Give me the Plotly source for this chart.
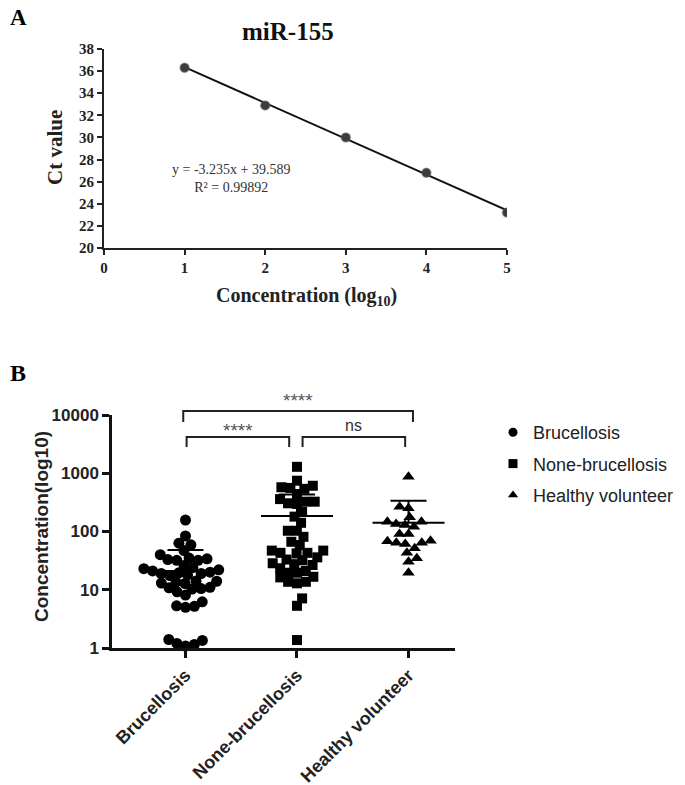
import math
import plotly.graph_objects as go

W, H = 685, 785

# ---------------- Panel A data ----------------
conc_log = [1, 2, 3, 4, 5]
ct_values = [36.3, 32.9, 30.0, 26.8, 23.2]
slope = -3.235
intercept = 39.589
r_squared = 0.99892
a_xticks = [0, 1, 2, 3, 4, 5]
a_yticks = [20, 22, 24, 26, 28, 30, 32, 34, 36, 38]

# ---------------- Panel B data ----------------
groups = ["Brucellosis", "None-brucellosis", "Healthy volunteer"]
brucellosis = [157, 84, 63, 59, 47, 40,
               35, 32, 33, 32, 34,
               26,
               23, 22, 24, 21, 20,
               19, 18, 19.5, 17.5, 19,
               14, 13, 13.5, 12.8, 14.2,
               10.5, 11, 10.8, 10.3,
               9.2, 8.1, 6.2,
               5.2, 5.0, 5.3,
               1.4, 1.2, 1.08, 1.15, 1.35]
none_brucellosis = [1290, 745, 610, 540, 560, 575, 440, 360,
                    325, 305, 297, 325,
                    218, 180, 141, 103, 103, 81, 66.6, 58.6,
                    47, 43, 42, 43, 47,
                    33, 36,
                    26.6, 28.5, 27.5, 32,
                    21, 19.6, 19.6, 23.4,
                    16.3, 13.7, 12.9, 13.7, 16.7,
                    7.1, 5.3, 1.37]
healthy = [870, 250, 265,
           175, 147, 129, 121, 135, 147,
           91, 91,
           69.5, 64, 61, 64, 68,
           51.5, 43, 34.7, 30.3, 19.6]
group_means = [21, 185, 141]
group_sd_upper = [48, 430, 336]
b_yticks = [1, 10, 100, 1000, 10000]

# ---------------- layout geometry ----------------
A_XDOM = [104 / W, 507 / W]
A_YDOM = [1 - 248 / H, 1 - 49 / H]
B_XDOM = [112 / W, 455 / W]
B_YDOM = [1 - 648 / H, 1 - 415 / H]
B_XRANGE = [-0.659, 2.417]
B_YRANGE = [0, 4]

ppu = W * (B_XDOM[1] - B_XDOM[0]) / (B_XRANGE[1] - B_XRANGE[0])
ppd = H * (B_YDOM[1] - B_YDOM[0]) / (B_YRANGE[1] - B_YRANGE[0])


def swarm(values, d_px):
    ys = [math.log10(v) * ppd for v in values]
    order = sorted(range(len(values)), key=lambda i: ys[i])
    placed = []
    xs = [0.0] * len(values)
    side = 1
    for i in order:
        y = ys[i]
        intervals = []
        for (px, py) in placed:
            dy = abs(py - y)
            if dy < d_px:
                dx = math.sqrt(d_px ** 2 - dy ** 2)
                intervals.append((px - dx, px + dx))
        cands = [0.0] + [a for a, b in intervals] + [b for a, b in intervals]
        cands.sort(key=lambda c: (round(abs(c), 3), -side * c))
        for c in cands:
            if all(not (a + 1e-6 < c < b - 1e-6) for a, b in intervals):
                xs[i] = c
                break
        if xs[i] != 0:
            side = -1 if xs[i] > 0 else 1
        placed.append((xs[i], y))
    return [x / ppu for x in xs]


fig = go.Figure()

# ---- Panel A ----
fig.add_trace(go.Scatter(
    x=[conc_log[0], conc_log[-1]],
    y=[slope * conc_log[0] + intercept, slope * conc_log[-1] + intercept],
    mode="lines", line=dict(color="#111", width=2),
    xaxis="x", yaxis="y", showlegend=False, hoverinfo="skip"))
fig.add_trace(go.Scatter(
    x=conc_log, y=ct_values, mode="markers",
    marker=dict(color="#3c3c3c", size=9, line=dict(color="rgba(90,90,90,0.5)", width=1.5)),
    xaxis="x", yaxis="y", showlegend=False))

# ---- Panel B ----
symbols = ["circle", "square", "triangle-up"]
sizes = [11, 10, 11]
datasets = [brucellosis, none_brucellosis, healthy]
for gi, (vals, sym, sz) in enumerate(zip(datasets, symbols, sizes)):
    offs = swarm(vals, 9.0)
    fig.add_trace(go.Scatter(
        x=[gi + o for o in offs], y=vals, mode="markers",
        marker=dict(symbol=sym, color="black", size=sz, line=dict(width=0)),
        xaxis="x2", yaxis="y2", showlegend=False, cliponaxis=False))

mean_half = 36 / ppu
cap_half = 18 / ppu
for gi in range(3):
    m = group_means[gi]
    u = group_sd_upper[gi]
    fig.add_trace(go.Scatter(
        x=[gi - mean_half, gi + mean_half, None, gi, gi, None, gi - cap_half, gi + cap_half],
        y=[m, m, None, m, u, None, u, u],
        mode="lines", line=dict(color="black", width=2),
        xaxis="x2", yaxis="y2", showlegend=False, hoverinfo="skip"))

# legend entries
for gi, (name, sym) in enumerate(zip(groups, symbols)):
    fig.add_trace(go.Scatter(
        x=[None], y=[None], mode="markers", name=name, legendgroup=name,
        marker=dict(symbol=sym, color="black", size=9),
        xaxis="x2", yaxis="y2", showlegend=True))

# significance brackets
brackets = [(-0.02, 2.04, 1.017, 0.970), (0.01, 0.93, 0.906, 0.863), (1.05, 1.97, 0.906, 0.863)]
for x0, x1, ytop, yleg in brackets:
    fig.add_shape(type="path",
                  path=f"M {x0},{yleg} L {x0},{ytop} L {x1},{ytop} L {x1},{yleg}",
                  xref="x2", yref="y2 domain", line=dict(color="#222", width=2))

sig_labels = [("****", 1.01, 1.062, 19, "#555"), ("****", 0.47, 0.932, 19, "#555"),
              ("ns", 1.51, 0.957, 16, "#333")]

annotations = []
for txt, xv, yv, fs, col in sig_labels:
    annotations.append(dict(text=txt, x=xv, y=yv, xref="x2", yref="y2 domain",
                            showarrow=False, xanchor="center", yanchor="middle",
                            font=dict(family="Liberation Sans", size=fs, color=col)))

serif = "Liberation Serif"
sans = "Liberation Sans"
annotations += [
    dict(text="<b>A</b>", x=8 / W, y=1 - 18 / H, xref="paper", yref="paper", showarrow=False,
         xanchor="left", yanchor="middle", font=dict(family=serif, size=23, color="black")),
    dict(text="<b>B</b>", x=8 / W, y=1 - 373 / H, xref="paper", yref="paper", showarrow=False,
         xanchor="left", yanchor="middle", font=dict(family=serif, size=24, color="black")),
    dict(text="<b>miR-155</b>", x=288 / W, y=1 - 32 / H, xref="paper", yref="paper",
         showarrow=False, xanchor="center", yanchor="middle",
         font=dict(family=serif, size=25, color="#111")),
    dict(text="<b>Ct value</b>", x=55 / W, y=1 - 148 / H, xref="paper", yref="paper",
         showarrow=False, textangle=-90, xanchor="center", yanchor="middle",
         font=dict(family=serif, size=21, color="#222")),
    dict(text="<b>Concentration (log<sub>10</sub>)</b>", x=306 / W, y=1 - 296 / H,
         xref="paper", yref="paper", showarrow=False, xanchor="center", yanchor="middle",
         font=dict(family=serif, size=20, color="#222")),
    dict(text=f"y = {slope}x + {intercept}<br>R² = {r_squared}", x=231 / W, y=1 - 179 / H,
         xref="paper", yref="paper", showarrow=False, xanchor="center", yanchor="middle",
         align="center", font=dict(family=serif, size=14, color="#333")),
    dict(text="<b>Concentration(log10)</b>", x=41 / W, y=1 - 527 / H, xref="paper",
         yref="paper", showarrow=False, textangle=-90, xanchor="center", yanchor="middle",
         font=dict(family=sans, size=19, color="#222")),
]

fig.update_layout(
    width=W, height=H,
    margin=dict(l=0, r=0, t=0, b=0, autoexpand=False),
    paper_bgcolor="white", plot_bgcolor="white",
    xaxis=dict(domain=A_XDOM, range=[0, 5], anchor="y", tickvals=a_xticks,
               showline=True, linecolor="#222", linewidth=2, ticks="outside",
               ticklen=5, tickwidth=1.5, tickcolor="#222", showgrid=False, zeroline=False,
               tickfont=dict(family=serif, size=15, color="#222", weight="bold")),
    yaxis=dict(domain=A_YDOM, range=[20, 38], anchor="x", tickvals=a_yticks,
               showline=True, linecolor="#222", linewidth=2, ticks="outside",
               ticklen=5, tickwidth=1.5, tickcolor="#222", showgrid=False, zeroline=False,
               tickfont=dict(family=serif, size=15, color="#222", weight="bold")),
    xaxis2=dict(domain=B_XDOM, range=B_XRANGE, anchor="y2", tickvals=[0, 1, 2],
                ticktext=groups, tickangle=-45,
                showline=True, linecolor="#111", linewidth=2.5, ticks="outside",
                ticklen=7, tickwidth=2.5, tickcolor="#111", showgrid=False, zeroline=False,
                tickfont=dict(family=sans, size=18, color="#222", weight="bold")),
    yaxis2=dict(domain=B_YDOM, type="log", range=B_YRANGE, anchor="x2", tickvals=b_yticks,
                ticktext=[str(v) for v in b_yticks],
                showline=True, linecolor="#111", linewidth=2.5, ticks="outside",
                ticklen=7, tickwidth=2.5, tickcolor="#111", showgrid=False, zeroline=False,
                tickfont=dict(family=sans, size=17, color="#222", weight="bold")),
    legend=dict(x=493 / W, y=1 - 414 / H, xanchor="left", yanchor="top",
                font=dict(family=sans, size=18, color="#222"),
                tracegroupgap=5, bgcolor="rgba(0,0,0,0)"),
    annotations=annotations,
)

fig.write_html("out.html", config={"displayModeBar": False},
               post_script="document.body.style.margin='0';")
